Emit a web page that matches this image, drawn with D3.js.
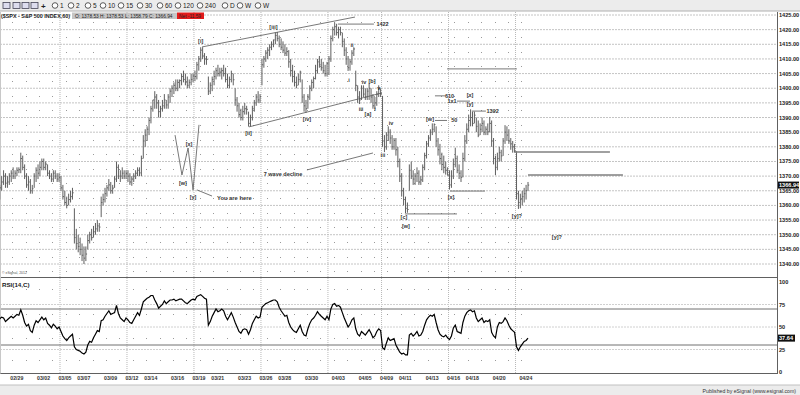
<!DOCTYPE html>
<html>
<head>
<meta charset="utf-8">
<script src="https://cdn.jsdelivr.net/npm/d3@7"></script>
<style>
body { margin: 0; background: #fff; }
svg { display: block; font-family: "Liberation Sans", Arial, sans-serif; }
</style>
</head>
<body>
<svg width="800" height="395"></svg>
<script>
'use strict'

// trading days, 7 hourly bars each
const days = ['02/27', '02/28', '02/29', '03/01', '03/02', '03/05', '03/06', '03/07', '03/08', '03/09',
    '03/12', '03/13', '03/14', '03/15', '03/16', '03/19', '03/20', '03/21', '03/22', '03/23',
    '03/26', '03/27', '03/28', '03/29', '03/30', '04/02', '04/03', '04/04', '04/05', '04/09',
    '04/10', '04/11', '04/12', '04/13', '04/16', '04/17', '04/18', '04/19', '04/20', '04/23']
const weekStarts = ['03/05', '03/12', '03/19', '03/26', '04/02', '04/09', '04/16', '04/23']
const dateTicks = ['02/29', '03/02', '03/05', '03/07', '03/09', '03/12', '03/14', '03/16', '03/19', '03/21',
    '03/23', '03/26', '03/28', '03/30', '04/03', '04/05', '04/09', '04/11', '04/13', '04/16',
    '04/18', '04/20', '04/24']

const highs = [
    1366, 1362, 1364, 1367, 1370, 1372, 1371,
    1370, 1371, 1372, 1373, 1372, 1373, 1373,
    1378, 1377, 1374, 1371, 1370, 1369, 1367,
    1371, 1373, 1374, 1375, 1376, 1376, 1375,
    1374, 1372, 1371, 1372, 1372, 1371, 1371,
    1370, 1367, 1365, 1363, 1364, 1365, 1366,
    1359, 1352, 1350, 1349, 1347, 1346, 1346,
    1350, 1351, 1352, 1353, 1354, 1355, 1354,
    1363, 1364, 1366, 1367, 1369, 1368, 1367,
    1370, 1375, 1374, 1372, 1373, 1372, 1372,
    1372, 1371, 1370, 1371, 1372, 1373, 1373,
    1377, 1384, 1386, 1387, 1390, 1394, 1396,
    1399, 1398, 1396, 1394, 1396, 1398, 1396,
    1398, 1400, 1401, 1402, 1403, 1403, 1403,
    1405, 1406, 1405, 1404, 1403, 1405, 1405,
    1406, 1409, 1411, 1414, 1414, 1412, 1411,
    1404, 1402, 1404, 1406, 1407, 1408, 1407,
    1407, 1408, 1407, 1405, 1404, 1406, 1405,
    1400, 1397, 1395, 1393, 1394, 1395, 1394,
    1392, 1391, 1394, 1396, 1398, 1399, 1398,
    1410, 1411, 1413, 1414, 1415, 1416, 1416.6,
    1419, 1419.2, 1418, 1417, 1416, 1415, 1414,
    1413, 1410, 1408, 1406, 1404, 1405, 1406,
    1403, 1398, 1396, 1398, 1401, 1403, 1404,
    1408, 1410, 1411, 1410, 1409, 1408, 1409,
    1411, 1418, 1421, 1422.4, 1422, 1421, 1421,
    1419, 1417, 1414, 1411, 1410, 1413, 1414,
    1406, 1401, 1399, 1401, 1401, 1400, 1400,
    1401.6, 1400, 1398, 1397, 1399, 1401, 1400,
    1397.4, 1384, 1385, 1387, 1386, 1384, 1383,
    1383, 1380, 1376, 1371, 1366, 1363, 1361,
    1374, 1375, 1372, 1371, 1373, 1372, 1370,
    1374, 1378, 1382, 1384, 1386, 1388, 1388,
    1387, 1383, 1381, 1378, 1377, 1375, 1373,
    1372, 1372, 1376, 1379.7, 1377, 1374, 1372,
    1378, 1384, 1388, 1391, 1392.8, 1392, 1392,
    1390, 1389, 1388, 1390, 1389, 1387, 1388,
    1390.2, 1389, 1383, 1377, 1378, 1380, 1379,
    1383, 1387.4, 1387, 1386, 1383, 1382, 1381,
    1378.5, 1365, 1364, 1365, 1366, 1367, 1368
]
const lows = [
    1355, 1357, 1359, 1362, 1365, 1367, 1366,
    1366, 1367, 1368, 1369, 1369, 1370, 1371,
    1371, 1372, 1369, 1366, 1365, 1364, 1364,
    1366, 1368, 1369, 1370, 1372, 1372, 1372,
    1370, 1369, 1368, 1368, 1369, 1368, 1368,
    1365, 1362, 1360, 1359, 1360, 1361, 1362,
    1347, 1345, 1344, 1343, 1341, 1340, 1341,
    1345, 1347, 1348, 1349, 1350, 1351, 1351,
    1356, 1360, 1361, 1363, 1365, 1364, 1364,
    1366, 1368, 1369, 1368, 1369, 1369, 1369,
    1368, 1367, 1366.7, 1368, 1369, 1370, 1370,
    1370, 1376, 1380, 1382, 1384, 1388, 1392,
    1393, 1393, 1390, 1390, 1392, 1393, 1393,
    1393, 1395, 1397, 1398, 1399, 1399, 1400,
    1401, 1402, 1401, 1400, 1400, 1401, 1402,
    1402.4, 1403, 1406, 1409, 1410, 1408, 1408,
    1397.7, 1398, 1399, 1401, 1403, 1404, 1404,
    1403, 1404, 1402, 1400, 1400, 1402, 1401,
    1394, 1392, 1390, 1389, 1389, 1391, 1391,
    1386.9, 1387, 1389, 1392, 1394, 1395, 1395,
    1401, 1407, 1409, 1410, 1411, 1413, 1414,
    1415, 1416, 1414, 1413, 1412, 1411, 1411,
    1407, 1404, 1402, 1400.6, 1400, 1401, 1402,
    1395, 1392, 1391.6, 1393, 1396, 1399, 1400,
    1403, 1405, 1407, 1406, 1405, 1404, 1404,
    1404.5, 1409, 1416, 1418, 1418, 1417, 1418,
    1414, 1411, 1408, 1405.9, 1406, 1408, 1411,
    1399, 1395, 1394.6, 1396, 1397, 1396, 1396,
    1396, 1395, 1393, 1392.9, 1394, 1397, 1397,
    1380, 1378.2, 1379, 1382, 1381, 1379, 1379,
    1377, 1373, 1368, 1363, 1360, 1357.4, 1357.5,
    1365, 1369, 1367, 1367, 1368, 1367, 1367,
    1368, 1372, 1376, 1380, 1382, 1384, 1385,
    1380, 1377, 1374, 1372, 1371, 1370.5, 1370.2,
    1365.4, 1366, 1369, 1373, 1371, 1369, 1368,
    1369.6, 1375, 1381, 1385, 1387, 1387, 1388,
    1385, 1383.3, 1384, 1385, 1384, 1384, 1384,
    1385, 1380, 1374, 1370.3, 1372, 1375, 1375,
    1376.9, 1381, 1382, 1381, 1379, 1378, 1378,
    1362, 1358.8, 1359, 1360, 1361, 1362, 1365
]
const closes = [
    1358, 1360, 1363, 1366, 1368, 1370, 1367.6,
    1368, 1370, 1371, 1370, 1371, 1372, 1372.2,
    1376, 1373, 1370, 1367, 1368, 1365, 1365.7,
    1370, 1372, 1371, 1373, 1375, 1373, 1374.1,
    1371, 1370, 1369, 1371, 1370, 1369, 1369.6,
    1366, 1363, 1361, 1360, 1362, 1363, 1364.3,
    1349, 1347, 1346, 1345, 1343, 1342, 1343.4,
    1348, 1350, 1349, 1351, 1352, 1353, 1352.6,
    1361, 1362, 1364, 1366, 1367, 1365, 1365.9,
    1369, 1373, 1370, 1370, 1371, 1370, 1370.9,
    1370, 1368, 1369, 1370, 1371, 1372, 1371.1,
    1376, 1382, 1384, 1386, 1389, 1393, 1396,
    1397, 1395, 1392, 1393, 1394, 1396, 1394.3,
    1397, 1399, 1400, 1401, 1400, 1402, 1402.6,
    1404, 1403, 1402, 1401, 1402, 1403, 1404.2,
    1404, 1408, 1410, 1413, 1411, 1410, 1409.8,
    1399, 1401, 1403, 1404, 1406, 1405, 1405.5,
    1406, 1405, 1403, 1401, 1403, 1405, 1402.9,
    1396, 1394, 1391, 1390, 1392, 1393, 1392.8,
    1388, 1390, 1393, 1395, 1397, 1396, 1397.1,
    1408, 1410, 1412, 1413, 1414, 1415, 1416.5,
    1418, 1417, 1415, 1414, 1413, 1412, 1412.5,
    1409, 1406, 1404, 1402, 1401, 1403, 1405.5,
    1397, 1394, 1393, 1397, 1400, 1402, 1403.3,
    1406, 1409, 1408, 1407, 1406, 1405, 1408.5,
    1410, 1417, 1420, 1421, 1419, 1420, 1419,
    1416, 1413, 1410, 1407, 1409, 1412, 1413.4,
    1401, 1397, 1396, 1400, 1398, 1397, 1399,
    1400, 1397, 1394, 1395, 1398, 1400, 1398.1,
    1382, 1380, 1384, 1385, 1383, 1380, 1382.2,
    1379, 1375, 1370, 1365, 1362, 1359, 1358.6,
    1372, 1370, 1369, 1370, 1371, 1368, 1368.7,
    1373, 1377, 1381, 1383, 1385, 1386, 1387.6,
    1382, 1379, 1376, 1374, 1373, 1372, 1370.3,
    1367, 1370, 1374, 1376, 1372, 1371, 1369.6,
    1376, 1382, 1386, 1389, 1390, 1388, 1390.8,
    1387, 1384, 1386, 1388, 1385, 1386, 1385.1,
    1388, 1382, 1376, 1373, 1376, 1378, 1376.9,
    1382, 1385, 1384, 1382, 1381, 1380, 1378.5,
    1364, 1361, 1362, 1363, 1364, 1365, 1366.94
]
const rsi = [
    58, 56, 57, 59, 61, 60, 56,
    58, 60, 62, 60, 62, 64, 63,
    69, 63, 55, 51, 53, 46, 44,
    52, 57, 55, 58, 61, 58, 60,
    54, 52, 49, 53, 51, 48, 50,
    45, 40, 37, 35, 38, 40, 42,
    28, 25, 24, 23, 21, 20, 22,
    30, 34, 33, 38, 42, 46, 45,
    57, 58, 62, 65, 68, 64, 65,
    66, 74, 65, 60, 58, 56, 60,
    58, 55, 54, 58, 62, 66, 63,
    70, 78, 80, 82, 83, 85, 85,
    80, 76, 71, 73, 75, 79, 76,
    78, 80, 80, 81, 79, 80, 81,
    81, 79, 77, 76, 78, 80, 81,
    80, 84, 85, 86, 84, 82, 81,
    52, 56, 62, 66, 70, 67, 68,
    70, 68, 62, 58, 62, 66, 61,
    55, 50, 45, 43, 47, 48, 47,
    42, 47, 54, 58, 62, 60, 61,
    72, 74, 76, 77, 78, 79, 80,
    80, 78, 72, 68, 65, 62, 63,
    55, 50, 47, 45, 44, 48, 52,
    45, 41, 40, 48, 54, 58, 60,
    63, 67, 64, 62, 60, 58, 62,
    58, 70, 75, 76, 73, 74, 72,
    66, 60, 55, 50, 53, 58, 60,
    48, 42, 40, 45, 43, 41, 44,
    47, 43, 38, 40, 45, 48, 46,
    27, 25, 32, 38, 35, 36, 37,
    30, 26, 22, 20, 21, 19, 19,
    41, 43, 40, 42, 45, 40, 41,
    45, 52, 58, 61, 63, 62, 64,
    55, 47, 42, 40, 39, 41, 38,
    36, 40, 49, 52, 45, 44, 43,
    55, 62, 66, 68, 69, 67, 68,
    60, 56, 58, 60, 55, 57, 56,
    58, 44, 40, 38, 50, 55, 54,
    56, 60, 57, 52, 48, 46, 44,
    28, 24, 28, 31, 34, 35, 37.64
]

const priceTicks = d3.range(1340, 1426, 5)
const rsiTicks = [0, 25, 50, 75, 100]
const lastClose = 1366.94
const lastRsi = 37.64

// wave count drawn on the chart: [bar, price, text]
const waveLabels = [
    [108, 1416, '[i]'], [146, 1421, '[iii]'], [133, 1384.7, '[ii]'], [163.5, 1389.5, '[iv]'],
    [203, 1421.9, '1422'], [187, 1414.8, 'ii'], [185.5, 1402.8, 'i'], [193.3, 1402.1, 'iv'],
    [197.5, 1402.5, '[b]'], [201.1, 1400.1, 'v'], [191.8, 1392.9, 'iii'], [195.4, 1391.2, '[a]'],
    [199.1, 1392.9, 'i'], [203.2, 1377.2, 'iii'], [207.4, 1388.1, 'iv'], [151, 1370.7, '7 wave decline'],
    [214.2, 1356.1, '[c]'], [215.2, 1353, '[w]'], [227.8, 1389.5, '[w]'], [240.5, 1389.3, '50'],
    [238, 1397.4, '610'], [239.3, 1395.6, '1x1'], [248.7, 1397.7, '[x]'], [248.7, 1394.6, '[y]'],
    [260.5, 1392.2, '1392'], [238.8, 1362.9, '[x]'], [273.2, 1356.4, '[y]?'], [294.1, 1349.2, '[y]?'],
    [101.9, 1381, '[x]'], [98.7, 1367.7, '[w]'], [104, 1362.9, '[y]']
]
// [bar1, price1, bar2, price2]
const waveLines = [
    [108.7, 1414.1, 188.6, 1424.3], [133.2, 1386.8, 202.7, 1398.4], [179.7, 1421.9, 198.5, 1421.9],
    [163.5, 1372.1, 198, 1377.9], [214.7, 1357.1, 241.9, 1357.1], [230.4, 1389, 236.7, 1389],
    [230.4, 1397.4, 235.6, 1397.4], [241.9, 1395.6, 248.7, 1395.6], [249.7, 1392.2, 257, 1392.2],
    [236.7, 1406.6, 273.2, 1406.6], [238.2, 1364.9, 256.5, 1364.9], [106, 1365.3, 113.9, 1363.2]
]
const targetLines = [[272.2, 1378.2, 321.8, 1378.2], [279, 1370.4, 328.6, 1370.4]]
const zigzag = [[94.6, 1384], [98.2, 1370.4], [101.4, 1379.6], [104, 1365.3], [107.1, 1387.5]]
const youAreHere = [116.5, 1362.5, 'You are here']

const width = 800
const height = 395
const right = 777

const x = d3.scaleLinear().domain([0, 279]).range([-6, 528])
const y = d3.scaleLinear().domain([1340, 1425]).range([264, 15])
const yr = d3.scaleLinear().domain([0, 100]).range([372, 282])
const dayX = k => x(k * 7) - 1

const svg = d3.select('svg')
const defs = svg.append('defs')
defs.append('clipPath').attr('id', 'clipPrice').append('rect')
    .attr('x', 0).attr('y', 12).attr('width', right).attr('height', 265)
defs.append('clipPath').attr('id', 'clipRsi').append('rect')
    .attr('x', 0).attr('y', 278).attr('width', right).attr('height', 95)

svg.append('rect').attr('width', width).attr('height', height).attr('fill', '#fff')

// toolbar
const bar = svg.append('g')
bar.append('rect').attr('width', width).attr('height', 11).attr('fill', '#ececec')
bar.append('line').attr('x1', 0).attr('x2', width).attr('y1', 11).attr('y2', 11).attr('stroke', '#b0b0b0')
;[3, 13, 22, 31].forEach(px => bar.append('rect').attr('x', px).attr('y', 2.5).attr('width', 7).attr('height', 6)
    .attr('fill', '#dde').attr('stroke', '#445').attr('stroke-width', 0.8))
bar.append('text').attr('x', 41).attr('y', 8.5).attr('font-size', 8).attr('font-weight', 'bold').attr('fill', '#222').text('+')
const intervals = [['1', 52], ['2', 68], ['5', 85], ['10', 100], ['15', 118], ['30', 137], ['60', 157],
    ['120', 175], ['240', 197], ['D', 222], ['W', 237], ['W', 255]]
intervals.forEach(([t, px]) => {
    bar.append('circle').attr('cx', px + 3).attr('cy', 5.5).attr('r', 2.8)
        .attr('fill', '#fff').attr('stroke', '#333').attr('stroke-width', 0.8)
    bar.append('text').attr('x', px + 8).attr('y', 8).attr('font-size', 6.5).attr('fill', '#222').text(t)
})

// price grid
const grid = svg.append('g')
grid.selectAll('line.h').data(priceTicks).join('line')
    .attr('x1', 0).attr('x2', right).attr('y1', d => y(d)).attr('y2', d => y(d))
    .attr('stroke', '#c4c4c4').attr('stroke-dasharray', '2,1')

grid.selectAll('line.w').data(weekStarts).join('line')
    .attr('x1', d => dayX(days.indexOf(d))).attr('x2', d => dayX(days.indexOf(d)))
    .attr('y1', 12).attr('y2', 373)
    .attr('stroke', '#b8b8b8').attr('stroke-dasharray', '1,1')

// sparse day dots
const dotRowsPrice = d3.range(1337.5, 1425, 5)
const dotRowsRsi = [92, 64, 38, 13]
const dots = []
days.forEach((d, k) => {
    dotRowsPrice.forEach(p => dots.push([x(k * 7 + 2.5), y(p)]))
    dotRowsRsi.forEach(v => dots.push([x(k * 7 + 2.5), yr(v)]))
})
grid.selectAll('rect.dot').data(dots).join('rect')
    .attr('x', d => Math.round(d[0])).attr('y', d => Math.round(d[1]))
    .attr('width', 1).attr('height', 1).attr('fill', '#9a9a9a')

// RSI grid
grid.selectAll('line.r').data([25, 50, 75]).join('line')
    .attr('x1', 0).attr('x2', right).attr('y1', d => yr(d)).attr('y2', d => yr(d))
    .attr('stroke', '#d0d0d0').attr('stroke-dasharray', '2,1')
grid.selectAll('line.ob').data([70, 30]).join('line')
    .attr('x1', 0).attr('x2', right).attr('y1', d => yr(d)).attr('y2', d => yr(d))
    .attr('stroke', '#707070').attr('stroke-width', 1)

// frame
const frame = svg.append('g').attr('stroke', '#606060').attr('fill', 'none')
frame.append('line').attr('x1', right + 0.5).attr('x2', right + 0.5).attr('y1', 12).attr('y2', 373.5)
frame.append('line').attr('x1', 0).attr('x2', right).attr('y1', 277.5).attr('y2', 277.5).attr('stroke-width', 1.2)
frame.append('line').attr('x1', 0).attr('x2', right + 1).attr('y1', 373.5).attr('y2', 373.5)
frame.append('line').attr('x1', 0.5).attr('x2', 0.5).attr('y1', 12).attr('y2', 373.5).attr('stroke', '#c8c8c8')

// price bars
const bars = svg.append('g').attr('clip-path', 'url(#clipPrice)')
const idx = d3.range(closes.length)
bars.selectAll('line.hl').data(idx).join('line')
    .attr('x1', i => x(i)).attr('x2', i => x(i))
    .attr('y1', i => y(highs[i])).attr('y2', i => y(lows[i]))
    .attr('stroke', '#5f5f5f').attr('stroke-width', 1)
bars.selectAll('line.c').data(idx).join('line')
    .attr('x1', i => x(i)).attr('x2', i => x(i) + 1.2)
    .attr('y1', i => y(closes[i])).attr('y2', i => y(closes[i]))
    .attr('stroke', '#5f5f5f').attr('stroke-width', 1)

// annotations
const notes = svg.append('g').attr('clip-path', 'url(#clipPrice)')
notes.selectAll('line.wl').data(waveLines).join('line')
    .attr('x1', d => x(d[0])).attr('y1', d => y(d[1])).attr('x2', d => x(d[2])).attr('y2', d => y(d[3]))
    .attr('stroke', '#555').attr('stroke-width', 0.8)
notes.selectAll('line.tl').data(targetLines).join('line')
    .attr('x1', d => x(d[0])).attr('y1', d => y(d[1])).attr('x2', d => x(d[2])).attr('y2', d => y(d[3]))
    .attr('stroke', '#808080').attr('stroke-width', 1.5)
notes.append('path').datum(zigzag)
    .attr('d', d3.line().x(d => x(d[0])).y(d => y(d[1])))
    .attr('fill', 'none').attr('stroke', '#555').attr('stroke-width', 0.8)
notes.selectAll('text').data(waveLabels).join('text')
    .attr('x', d => x(d[0])).attr('y', d => y(d[1]) + 2)
    .attr('text-anchor', 'middle').attr('font-size', 5.5).attr('font-weight', 'bold').attr('fill', '#333')
    .text(d => d[2])
notes.append('text').attr('x', x(youAreHere[0])).attr('y', y(youAreHere[1]) + 2)
    .attr('font-size', 5.8).attr('font-weight', 'bold').attr('fill', '#333').text(youAreHere[2])

svg.append('text').attr('x', 2).attr('y', 274).attr('font-size', 3.5).attr('fill', '#555').text('© eSignal, 2012')

// RSI
const rsiG = svg.append('g').attr('clip-path', 'url(#clipRsi)')
rsiG.append('path').datum(rsi)
    .attr('d', d3.line().x((d, i) => x(i)).y(d => yr(d)))
    .attr('fill', 'none').attr('stroke', '#000').attr('stroke-width', 1.2)
svg.append('text').attr('x', 2).attr('y', 286.5).attr('font-size', 6.2).attr('font-weight', 'bold')
    .attr('fill', '#222').text('RSI(14,C)')

// right axis labels
const axis = svg.append('g').attr('font-size', 5.6).attr('font-weight', 'bold').attr('fill', '#222')
axis.selectAll('text.p').data(priceTicks).join('text')
    .attr('x', 779).attr('y', d => y(d) + 2).text(d => d3.format('.2f')(d))
axis.selectAll('text.r').data(rsiTicks).join('text')
    .attr('x', 779).attr('y', d => yr(d) + 2).text(d => d)

axis.append('rect').attr('x', 778).attr('y', y(lastClose) - 3.5).attr('width', 21).attr('height', 7).attr('fill', '#111')
axis.append('text').attr('x', 779).attr('y', y(lastClose) + 2).attr('fill', '#fff').text(d3.format('.2f')(lastClose))
axis.append('rect').attr('x', 778).attr('y', yr(lastRsi) - 3.5).attr('width', 17).attr('height', 7).attr('fill', '#111')
axis.append('text').attr('x', 779).attr('y', yr(lastRsi) + 2).attr('fill', '#fff').text(lastRsi)

// date axis
const dayIndex = d => { const k = days.indexOf(d); return k < 0 ? days.length : k }
svg.append('g').selectAll('text').data(dateTicks).join('text')
    .attr('x', d => dayX(dayIndex(d)) + (weekStarts.includes(d) ? 5 : -3))
    .attr('y', 379.5).attr('text-anchor', 'middle')
    .attr('font-size', 5.2).attr('font-weight', 'bold').attr('fill', '#333')
    .text(d => d)

// title row
const title = svg.append('g')
title.append('text').attr('x', 1).attr('y', 17.5).attr('font-size', 5.4).attr('font-weight', 'bold')
    .attr('fill', '#222').attr('textLength', 69).text('($SPX - S&P 500 INDEX,60)')
title.append('rect').attr('x', 72).attr('y', 12.5).attr('width', 105).attr('height', 6.5).attr('fill', '#c6c6c6')
title.append('rect').attr('x', 177).attr('y', 12.5).attr('width', 27).attr('height', 6.5).attr('fill', '#e21a1a')
const quote = [['O: 1378.53', 75], ['H: 1378.53', 100], ['L: 1358.79', 125], ['C: 1366.94', 149], ['Net -11.59', 179]]
quote.forEach(([t, px]) => title.append('text').attr('x', px).attr('y', 17.6)
    .attr('font-size', 4.8).attr('fill', '#222').text(t))

// status bar
svg.append('rect').attr('x', 0).attr('y', 385).attr('width', width).attr('height', 10).attr('fill', '#ececec')
svg.append('line').attr('x1', 0).attr('x2', width).attr('y1', 385).attr('y2', 385).attr('stroke', '#c0c0c0')
svg.append('text').attr('x', 796).attr('y', 392.5).attr('text-anchor', 'end').attr('font-size', 5.2)
    .attr('fill', '#333').text('Published by eSignal (www.esignal.com)')
</script>
</body>
</html>
